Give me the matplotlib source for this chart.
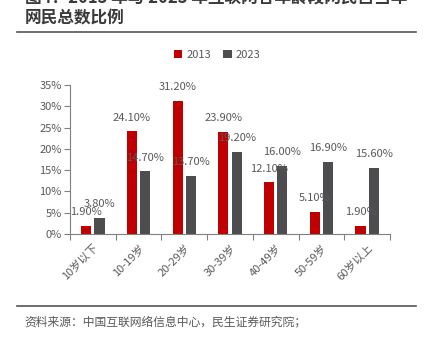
import numpy as np
import matplotlib.pyplot as plt
from matplotlib.lines import Line2D

plt.rcParams["font.family"] = ["Noto Sans CJK SC", "DejaVu Sans"]

categories = ["10岁以下", "10-19岁", "20-29岁", "30-39岁", "40-49岁", "50-59岁", "60岁以上"]
share2013 = [1.9, 24.1, 31.2, 23.9, 12.1, 5.1, 1.9]
share2023 = [3.8, 14.7, 13.7, 19.2, 16.0, 16.9, 15.6]
yticks = [0, 5, 10, 15, 20, 25, 30, 35]

red = "#C00000"
gray = "#4D4D4F"
txt = "#595959"

fig = plt.figure(figsize=(4.36, 3.39), dpi=100)
ax = fig.add_axes([0.1606, 0.3097, 0.7339, 0.4396])

x = np.arange(len(categories))
w = 0.22
b1 = ax.bar(x - 0.145, share2013, w, color=red, label="2013")
b2 = ax.bar(x + 0.145, share2023, w, color=gray, label="2023")

for xi, v in zip(x - 0.145, share2013):
    ax.annotate("{:.2f}%".format(v), (xi, v), xytext=(0, 10), textcoords="offset points",
                ha="center", va="center", fontsize=8, color=txt)
for xi, v in zip(x + 0.145, share2023):
    ax.annotate("{:.2f}%".format(v), (xi, v), xytext=(0, 10), textcoords="offset points",
                ha="center", va="center", fontsize=8, color=txt)

ax.set_xlim(-0.5, len(categories) - 0.5)
ax.set_ylim(0, 35)
ax.set_yticks(yticks)
ax.set_yticklabels(["{}%".format(t) for t in yticks], fontsize=8, color=txt)
ax.set_xticks(np.arange(-0.5, len(categories), 1))
ax.set_xticklabels([])
ax.set_xticks(x, minor=True)
ax.set_xticklabels(categories, minor=True, rotation=45, ha="right", rotation_mode="anchor",
                   fontsize=8, color=txt)
ax.tick_params(axis="x", which="minor", length=0, pad=6)
ax.tick_params(axis="x", which="major", length=4, color="#808080")
ax.tick_params(axis="y", length=4, color="#808080", pad=2)
for s in ["top", "right"]:
    ax.spines[s].set_visible(False)
for s in ["left", "bottom"]:
    ax.spines[s].set_color("#808080")

fig.legend(handles=[b1, b2], loc="center", bbox_to_anchor=(0.498, 0.838), ncol=2,
           frameon=False, fontsize=8, handlelength=0.8, handleheight=0.8,
           handletextpad=0.4, columnspacing=1.0, labelcolor=txt)

fig.text(0.057, 1 + 1 / 339, "图4：2013 年与 2023 年互联网各年龄段网民占当年",
         fontsize=12, fontweight="bold", color="#3a3a3a", va="center")
fig.text(0.057, 1 - 18 / 339, "网民总数比例",
         fontsize=12, fontweight="bold", color="#3a3a3a", va="center")
fig.add_artist(Line2D([17 / 436, 416 / 436], [1 - 32 / 339] * 2, color="#555555", lw=1.2))
fig.add_artist(Line2D([17 / 436, 416 / 436], [1 - 306 / 339] * 2, color="#555555", lw=1.2))
fig.text(0.057, 1 - 322 / 339, "资料来源：中国互联网络信息中心，民生证券研究院；",
         fontsize=8.5, color=txt, va="center")

plt.savefig("out.png", dpi=100)
